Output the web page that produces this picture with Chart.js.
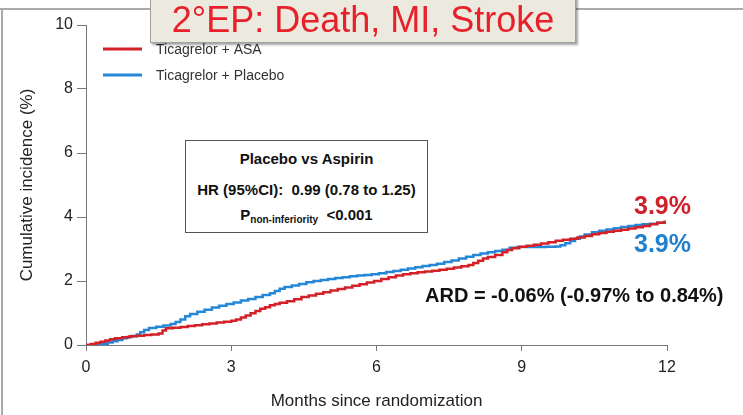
<!DOCTYPE html>
<html>
<head>
<meta charset="utf-8">
<script src="https://cdn.jsdelivr.net/npm/chart.js@4.4.0/dist/chart.umd.min.js"></script>
<style>
  html,body{margin:0;padding:0;background:#fff;}
  #wrap{position:relative;width:743px;height:415px;overflow:hidden;font-family:"Liberation Sans",Arial,sans-serif;}
  #c{position:absolute;left:0;top:0;}
  .frameTop{position:absolute;left:0;top:8px;width:743px;height:2px;background:#aaa;}
  .frameLeft{position:absolute;left:1px;top:8px;width:2px;height:407px;background:#aaa;}
  #title{position:absolute;left:150px;top:-4px;width:424px;height:45px;background:#ECE9DE;border:1px solid #a0a0a0;box-shadow:2px 2px 2px rgba(0,0,0,0.35);color:#E8202A;font-size:36px;line-height:45px;text-align:center;white-space:nowrap;}
  #hrbox{position:absolute;left:185px;top:140px;width:241px;height:91px;border:1px solid #555;background:#fff;color:#111;font-weight:bold;font-size:15px;text-align:center;}
  #hrbox div{position:absolute;left:0;width:100%;white-space:nowrap;}
  .lab{position:absolute;white-space:nowrap;font-size:25px;font-weight:bold;}
  #ard{position:absolute;left:425px;top:284px;font-weight:bold;font-size:20px;color:#111;white-space:nowrap;}
</style>
</head>
<body>
<div id="wrap">
  <canvas id="c" width="743" height="415"></canvas>
  <div class="frameTop"></div>
  <div class="frameLeft"></div>
  <div id="title">2°EP: Death, MI, Stroke</div>
  <div id="hrbox">
    <div style="top:9px">Placebo vs Aspirin</div>
    <div style="top:40px">HR (95%CI):&nbsp; 0.99 (0.78 to 1.25)</div>
    <div style="top:65px">P<span style="font-size:10px;position:relative;top:3px">non-inferiority</span>&nbsp; &lt;0.001</div>
  </div>
  <div class="lab" id="labRed" style="left:634px;top:191px;color:#D0202A;">3.9%</div>
  <div class="lab" id="labBlue" style="left:634px;top:229px;color:#2080D0;">3.9%</div>
  <div id="ard">ARD = -0.06% (-0.97% to 0.84%)</div>
</div>
<script>
const seriesNames = ["Ticagrelor + ASA", "Ticagrelor + Placebo"];
const seriesColors = ["#D42027", "#2487D8"];

const asaMonths = [0,0.1,0.2,0.3,0.4,0.5,0.6,0.75,0.9,1.05,1.2,1.35,1.5,1.58,1.65,1.8,1.95,2.1,2.25,2.4,2.55,2.7,2.85,3.0,3.1,3.2,3.3,3.4,3.5,3.6,3.7,3.8,3.9,4.0,4.15,4.3,4.45,4.6,4.75,4.9,5.05,5.2,5.35,5.5,5.65,5.8,5.95,6.1,6.25,6.4,6.55,6.7,6.85,7.0,7.15,7.3,7.45,7.6,7.75,7.9,8.0,8.1,8.2,8.3,8.45,8.6,8.7,8.8,8.95,9.1,9.25,9.4,9.55,9.7,9.85,10.0,10.15,10.3,10.45,10.6,10.75,10.9,11.05,11.2,11.35,11.5,11.65,11.8,11.95];
const asaValues = [0,0.03,0.07,0.1,0.14,0.18,0.21,0.24,0.27,0.29,0.31,0.33,0.36,0.45,0.52,0.54,0.56,0.59,0.62,0.65,0.67,0.7,0.73,0.76,0.8,0.86,0.92,0.99,1.06,1.13,1.18,1.24,1.28,1.32,1.37,1.43,1.5,1.55,1.6,1.65,1.7,1.75,1.8,1.85,1.9,1.95,2.0,2.06,2.12,2.17,2.21,2.24,2.27,2.3,2.32,2.35,2.38,2.42,2.46,2.5,2.56,2.63,2.7,2.75,2.81,2.9,2.97,3.02,3.07,3.1,3.13,3.17,3.21,3.26,3.29,3.32,3.36,3.41,3.46,3.5,3.54,3.57,3.6,3.64,3.68,3.72,3.77,3.82,3.89];

const placeboMonths = [0,0.25,0.35,0.45,0.55,0.65,0.75,0.85,0.95,1.05,1.12,1.2,1.3,1.45,1.6,1.75,1.85,1.95,2.05,2.15,2.3,2.45,2.6,2.75,2.9,3.05,3.2,3.35,3.5,3.65,3.8,3.9,4.0,4.1,4.25,4.4,4.55,4.7,4.85,5.0,5.15,5.3,5.45,5.6,5.75,5.9,6.05,6.2,6.35,6.5,6.65,6.8,6.95,7.1,7.25,7.4,7.55,7.7,7.85,8.0,8.15,8.3,8.45,8.6,8.75,8.9,9.1,9.3,9.5,9.7,9.8,9.9,10.0,10.1,10.2,10.3,10.45,10.6,10.75,10.9,11.05,11.2,11.35,11.5,11.65,11.8,11.95];
const placeboValues = [0,0.01,0.04,0.08,0.12,0.16,0.21,0.25,0.28,0.33,0.4,0.47,0.53,0.57,0.61,0.66,0.72,0.8,0.9,0.97,1.04,1.1,1.17,1.23,1.28,1.33,1.39,1.44,1.5,1.56,1.62,1.69,1.76,1.81,1.86,1.91,1.96,2.0,2.03,2.06,2.09,2.12,2.15,2.17,2.19,2.21,2.24,2.28,2.31,2.35,2.39,2.43,2.47,2.5,2.54,2.59,2.64,2.7,2.76,2.81,2.86,2.9,2.94,2.98,3.04,3.06,3.06,3.06,3.07,3.08,3.12,3.18,3.25,3.32,3.39,3.45,3.52,3.57,3.61,3.65,3.69,3.72,3.75,3.77,3.79,3.82,3.86];

const xTicks = [0,3,6,9,12];
const yTicks = [0,2,4,6,8,10];

function pts(xs, ys){ return xs.map((x,i)=>({x:x,y:ys[i]})); }

const legendPlugin = {
  id: 'insideLegend',
  afterDraw(chart){
    const ctx = chart.ctx;
    ctx.save();
    chart.data.datasets.forEach((ds,i)=>{
      const y = 49 + i*26;
      ctx.strokeStyle = ds.borderColor;
      ctx.lineWidth = 3;
      ctx.beginPath(); ctx.moveTo(103,y); ctx.lineTo(142,y); ctx.stroke();
      ctx.fillStyle = '#333';
      ctx.font = '14px "Liberation Sans", Arial, sans-serif';
      ctx.textBaseline = 'middle';
      ctx.fillText(ds.label, 156, y+1);
    });
    ctx.restore();
  }
};

new Chart(document.getElementById('c'), {
  type: 'line',
  data: {
    datasets: [
      {label: seriesNames[0], data: pts(asaMonths, asaValues), borderColor: seriesColors[0], borderWidth: 2.5, stepped: true, pointRadius: 0, fill: false},
      {label: seriesNames[1], data: pts(placeboMonths, placeboValues), borderColor: seriesColors[1], borderWidth: 2.5, stepped: true, pointRadius: 0, fill: false}
    ]
  },
  options: {
    responsive: false,
    animation: false,
    layout: {padding: {top: 25, right: 76, left: 0, bottom: 0}},
    plugins: {legend: {display: false}, tooltip: {enabled: false}},
    scales: {
      x: {
        type: 'linear', min: 0, max: 12,
        afterBuildTicks(s){ s.ticks = xTicks.map(v=>({value:v})); },
        afterFit(s){ s.height = 70; },
        grid: {drawOnChartArea: false, drawTicks: true, tickLength: 6, color: '#777'},
        border: {color: '#777', width: 1},
        ticks: {padding: 7, color: '#222', font: {family: '"Liberation Sans", Arial', size: 16}},
        title: {display: true, text: 'Months since randomization', color: '#222', font: {family: '"Liberation Sans", Arial', size: 17}, padding: {top: 0, bottom: 3}}
      },
      y: {
        min: 0, max: 10,
        afterBuildTicks(s){ s.ticks = yTicks.map(v=>({value:v})); },
        afterFit(s){ s.width = 86; },
        grid: {drawOnChartArea: false, drawTicks: true, tickLength: 9, color: '#777'},
        border: {color: '#777', width: 1},
        ticks: {padding: 4, color: '#222', font: {family: '"Liberation Sans", Arial', size: 16}},
        title: {display: true, text: 'Cumulative incidence (%)', color: '#222', font: {family: '"Liberation Sans", Arial', size: 17}, padding: {top: 17, bottom: 0}}
      }
    }
  },
  plugins: [legendPlugin]
});
</script>
</body>
</html>
